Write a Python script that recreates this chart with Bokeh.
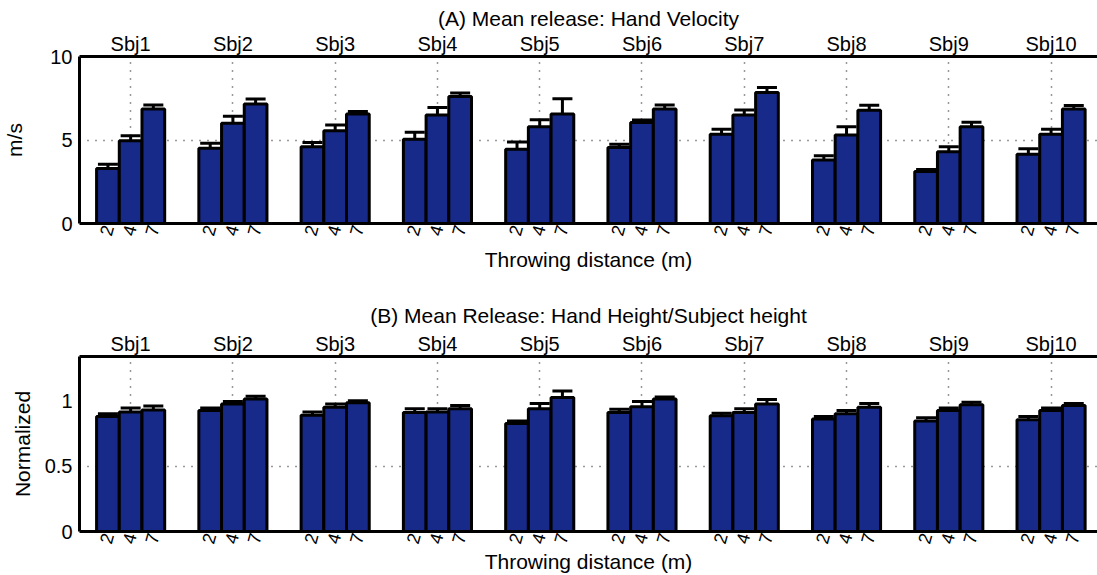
import numpy as np
from bokeh.plotting import figure
from bokeh.models import ColumnDataSource, FixedTicker, LinearAxis, Range1d, Whisker, TeeHead
from bokeh.layouts import column
from bokeh.embed import file_html
from bokeh.resources import INLINE

subjects = ["Sbj1", "Sbj2", "Sbj3", "Sbj4", "Sbj5", "Sbj6", "Sbj7", "Sbj8", "Sbj9", "Sbj10"]
distances = ["2", "4", "7"]

# (A) Mean release hand velocity (m/s) for 2 m, 4 m and 7 m throws
vel_2m = [3.30, 4.50, 4.60, 5.05, 4.45, 4.55, 5.35, 3.80, 3.12, 4.15]
vel_4m = [4.95, 6.00, 5.55, 6.50, 5.80, 6.05, 6.50, 5.30, 4.30, 5.35]
vel_7m = [6.85, 7.15, 6.55, 7.60, 6.55, 6.85, 7.85, 6.78, 5.80, 6.85]
vel_err_2m = [0.25, 0.30, 0.25, 0.42, 0.43, 0.20, 0.30, 0.25, 0.12, 0.32]
vel_err_4m = [0.30, 0.42, 0.35, 0.45, 0.42, 0.15, 0.30, 0.50, 0.30, 0.30]
vel_err_7m = [0.25, 0.30, 0.15, 0.22, 0.92, 0.25, 0.30, 0.30, 0.27, 0.22]

# (B) Mean release hand height / subject height
hgt_2m = [0.885, 0.930, 0.895, 0.915, 0.830, 0.915, 0.890, 0.865, 0.850, 0.860]
hgt_4m = [0.920, 0.980, 0.955, 0.920, 0.945, 0.960, 0.915, 0.905, 0.930, 0.930]
hgt_7m = [0.935, 1.020, 0.990, 0.945, 1.030, 1.020, 0.980, 0.955, 0.975, 0.970]
hgt_err_2m = [0.020, 0.020, 0.025, 0.030, 0.020, 0.025, 0.020, 0.020, 0.025, 0.025]
hgt_err_4m = [0.030, 0.020, 0.025, 0.025, 0.040, 0.040, 0.030, 0.025, 0.020, 0.020]
hgt_err_7m = [0.030, 0.020, 0.015, 0.025, 0.050, 0.015, 0.035, 0.030, 0.020, 0.015]

FONT = "Liberation Sans"
BAR_COLOR = "#172a8a"
OFFSETS = [-0.222, 0.0, 0.222]
BAR_W = 0.222


def panel(title, ylabel, means, errs, ymax, yticks, ylabels, height,
          border_top, border_bottom, ylabel_standoff, title_standoff, xlabel_standoff):
    groups = [float(g) for g in range(1, len(subjects) + 1)]
    xs, tops, ups, los, btm_labels = [], [], [], [], {}
    for off, dist, m, e in zip(OFFSETS, distances, means, errs):
        for g, mv, ev in zip(groups, m, e):
            x = g + off
            xs.append(x)
            tops.append(mv)
            ups.append(mv + ev)
            los.append(mv - ev)
            btm_labels[x] = dist
    src = ColumnDataSource(dict(x=xs, top=tops, upper=ups, lower=los))

    p = figure(width=1097, height=height,
               x_range=Range1d(0.5, 10.454), y_range=Range1d(0, ymax),
               output_backend="svg", toolbar_location=None,
               min_border_left=79, min_border_right=0,
               min_border_top=border_top, min_border_bottom=border_bottom,
               outline_line_color=None, title=title)
    p.background_fill_color = "white"
    p.border_fill_color = "white"

    p.title.text_font = FONT
    p.title.text_font_size = "21px"
    p.title.text_font_style = "normal"
    p.title.text_color = "black"
    p.title.align = "center"
    p.title.standoff = title_standoff

    # grids
    p.xgrid.ticker = FixedTicker(ticks=groups)
    p.ygrid.ticker = FixedTicker(ticks=yticks[1:-1] if len(yticks) > 2 else yticks)
    for g in (p.xgrid[0], p.ygrid[0]):
        g.grid_line_color = "#333333"
        g.grid_line_dash = "1 7"
        g.grid_line_width = 1.5

    p.vbar(x="x", top="top", bottom=0, width=BAR_W, source=src,
           fill_color=BAR_COLOR, line_color="black", line_width=3)

    head_kw = dict(size=20, line_width=3, line_color="black")
    p.add_layout(Whisker(source=src, base="x", upper="upper", lower="lower",
                         line_width=3, line_color="black",
                         upper_head=TeeHead(**head_kw), lower_head=TeeHead(**head_kw)))

    # bottom axis: throwing distances
    xa = p.xaxis[0]
    xa.ticker = FixedTicker(ticks=sorted(xs))
    xa.major_label_overrides = btm_labels
    xa.major_label_orientation = 1.3
    xa.major_label_text_font = FONT
    xa.major_label_text_font_size = "18px"
    xa.major_label_text_color = "black"
    xa.major_label_standoff = 2
    xa.axis_label = "Throwing distance (m)"
    xa.axis_label_text_font = FONT
    xa.axis_label_text_font_size = "21px"
    xa.axis_label_text_font_style = "normal"
    xa.axis_label_text_color = "black"
    xa.axis_label_standoff = xlabel_standoff
    xa.axis_line_width = 3
    xa.axis_line_color = "black"
    xa.major_tick_out = 0
    xa.major_tick_in = 0
    xa.minor_tick_out = 0
    xa.minor_tick_in = 0

    # top axis: subjects
    ta = LinearAxis(ticker=FixedTicker(ticks=groups),
                    major_label_overrides={g: s for g, s in zip(groups, subjects)})
    ta.major_label_text_font = FONT
    ta.major_label_text_font_size = "20px"
    ta.major_label_text_color = "black"
    ta.major_label_standoff = 2
    ta.axis_line_width = 3
    ta.axis_line_color = "black"
    ta.major_tick_out = 0
    ta.major_tick_in = 0
    ta.minor_tick_out = 0
    ta.minor_tick_in = 0
    p.add_layout(ta, "above")

    # left axis
    ya = p.yaxis[0]
    ya.ticker = FixedTicker(ticks=yticks)
    ya.major_label_overrides = {t: l for t, l in zip(yticks, ylabels)}
    ya.major_label_text_font = FONT
    ya.major_label_text_font_size = "20px"
    ya.major_label_text_color = "black"
    ya.major_label_standoff = 7
    ya.axis_label = ylabel
    ya.axis_label_text_font = FONT
    ya.axis_label_text_font_size = "21px"
    ya.axis_label_text_font_style = "normal"
    ya.axis_label_text_color = "black"
    ya.axis_label_standoff = ylabel_standoff
    ya.axis_line_width = 3
    ya.axis_line_color = "black"
    ya.major_tick_out = 0
    ya.major_tick_in = 0
    ya.minor_tick_out = 0
    ya.minor_tick_in = 0
    return p


pa = panel("(A) Mean release: Hand Velocity", "m/s",
           [vel_2m, vel_4m, vel_7m], [vel_err_2m, vel_err_4m, vel_err_7m],
           10, [0, 5, 10], ["0", "5", "10"], 290, 56, 67, 21, 0, 6)
pb = panel("(B) Mean Release: Hand Height/Subject height", "Normalized",
           [hgt_2m, hgt_4m, hgt_7m], [hgt_err_2m, hgt_err_4m, hgt_err_7m],
           1.346, [0, 0.5, 1], ["0", "0.5", "1"], 285, 66, 44, 8, 6, 0)

layout = column(pa, pb, spacing=0)
open("out.html", "w").write(file_html(layout, INLINE))
